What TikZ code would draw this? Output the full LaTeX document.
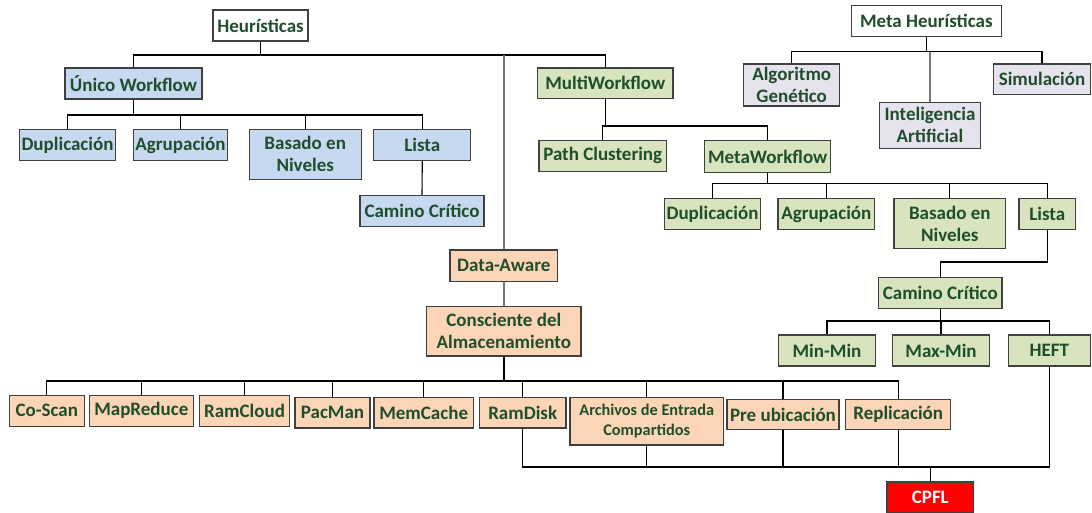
\documentclass[tikz,border=0pt]{standalone}
\usepackage{fontspec}
\setmainfont{Carlito}
\definecolor{txtgreen}{RGB}{31,78,44}
\definecolor{edge}{RGB}{64,64,64}
\definecolor{wiregray}{RGB}{120,120,120}
\definecolor{fillblue}{RGB}{198,217,241}
\definecolor{fillgreen}{RGB}{215,228,189}
\definecolor{fillorange}{RGB}{251,213,181}
\definecolor{filllav}{RGB}{230,226,238}
\definecolor{fillred}{RGB}{255,0,0}
\tikzset{
  box/.style={draw=edge, line width=1.2pt, inner sep=0pt, align=center,
    font=\fontsize{19}{22}\selectfont\bfseries, text=txtgreen},
  rootbox/.style={box, fill=white},
  bluebox/.style={box, fill=fillblue},
  greenbox/.style={box, fill=fillgreen},
  orangebox/.style={box, fill=fillorange},
  lavbox/.style={box, fill=filllav},
  redbox/.style={box, fill=fillred, text=white},
  wire/.style={draw=black, line width=1.1pt},
  graywire/.style={draw=wiregray, line width=1.5pt},
}
\newcommand{\bx}[6]{\node[#1, minimum width=#4pt, minimum height=#5pt] (#2) at (#3) {#6};}
\begin{document}
\begin{tikzpicture}[x=1pt, y=-1pt]
\useasboundingbox (0,0) rectangle (1092,513);

% ---- Heuristicas branch ----
\bx{rootbox}{heur}{260.5,25.5}{95}{31}{Heurísticas}
\bx{bluebox}{unico}{133.5,83.5}{137}{31}{Único Workflow}
\bx{bluebox}{dupA}{67.5,145}{96}{31}{Duplicación}
\bx{bluebox}{agrA}{180.5,145}{94}{31}{Agrupación}
\bx{bluebox}{basA}{305.2,154.2}{112}{50}{Basado en\\Niveles}
\bx{bluebox}{listA}{422.3,145}{97}{31}{Lista}
\bx{bluebox}{camA}{422,211}{124}{31}{Camino Crítico}

% ---- Meta heuristicas ----
\bx{rootbox}{meta}{926.3,21.3}{150}{31}{Meta Heurísticas}
\bx{lavbox}{alg}{791.7,85}{96}{42}{Algoritmo\\Genético}
\bx{lavbox}{ia}{930,125.3}{100.6}{46}{Inteligencia\\Artificial}
\bx{lavbox}{sim}{1042,79.2}{96.6}{30.3}{Simulación}

% ---- MultiWorkflow branch ----
\bx{greenbox}{multi}{605.3,83.3}{135.3}{30.7}{MultiWorkflow}
\bx{greenbox}{path}{602.7,155.8}{127.3}{31}{Path Clustering}
\bx{greenbox}{metaw}{767.7,156.5}{126}{31.6}{MetaWorkflow}
\bx{greenbox}{dupB}{712.5,214}{96.4}{30.6}{Duplicación}
\bx{greenbox}{agrB}{826.3,214}{96.7}{30.6}{Agrupación}
\bx{greenbox}{basB}{949.8,223.5}{111.7}{49.6}{Basado en\\Niveles}
\bx{greenbox}{listB}{1047.2,214}{56.3}{30.6}{Lista}
\bx{greenbox}{camB}{940.3,293}{123.3}{30.6}{Camino Crítico}
\bx{greenbox}{minmin}{827,350.5}{96.6}{31}{Min-Min}
\bx{greenbox}{maxmin}{941,350.5}{96.6}{31}{Max-Min}
\bx{greenbox}{heft}{1049.3,350.5}{82}{31}{HEFT}

% ---- Data-Aware branch ----
\bx{orangebox}{data}{503.8,265.7}{107.7}{31.3}{Data-Aware}
\bx{orangebox}{consc}{503.8,331.3}{154.3}{49.3}{Consciente del\\Almacenamiento}
\bx{orangebox}{coscan}{46.8,410.8}{75}{31}{Co-Scan}
\bx{orangebox}{mapred}{141.3,410.8}{104}{31}{MapReduce}
\bx{orangebox}{ramcloud}{244.5,410.8}{90.4}{31}{RamCloud}
\bx{orangebox}{pacman}{332.5,412.7}{75}{30.7}{PacMan}
\bx{orangebox}{memcache}{423.7,412.7}{99.3}{30.7}{MemCache}
\bx{orangebox}{ramdisk}{522.7,412.7}{86.7}{30.7}{RamDisk}
\node[orangebox, minimum width=153.3pt, minimum height=47.7pt,
  font=\fontsize{16.3}{20}\selectfont\bfseries] (archivos) at (646.7,421.2)
  {Archivos de Entrada\\Compartidos};
\bx{orangebox}{preub}{783,414.5}{112}{30.4}{Pre ubicación}
\bx{orangebox}{replic}{898.2,414.5}{105}{30.4}{Replicación}
\bx{redbox}{cpfl}{930.3,497.2}{86.7}{30.5}{CPFL}

% ---- bus levels ----
\coordinate (hbus) at (0,55);
\coordinate (ubus) at (0,115);
\coordinate (mbus) at (0,51.7);
\coordinate (mwbus) at (0,126);
\coordinate (metabus) at (0,183.3);
\coordinate (lbus) at (0,262);
\coordinate (cbus) at (0,321);
\coordinate (sbus) at (0,381);
\coordinate (fbus) at (0,467);

% Heuristicas tree
\draw[wire] (heur.south) -- (heur.south |- hbus);
\draw[wire] (unico.north) -- (unico.north |- hbus) -- (multi.north |- hbus) -- (multi.north);
\draw[graywire] (data.north) -- (data.north |- hbus);

\draw[wire] (unico.south) -- (unico.south |- ubus);
\draw[wire] (dupA.north) -- (dupA.north |- ubus) -- (listA.north |- ubus) -- (listA.north);
\draw[wire] (agrA.north) -- (agrA.north |- ubus);
\draw[wire] (basA.north) -- (basA.north |- ubus);
\draw[wire] (listA.south) -- (camA.north);

% Meta heuristicas tree
\draw[wire] (meta.south) -- (meta.south |- mbus);
\draw[wire] (alg.north) -- (alg.north |- mbus) -- (sim.north |- mbus) -- (sim.north);
\draw[graywire] (ia.north) -- (ia.north |- mbus);

% MultiWorkflow tree
\draw[wire] (multi.south) -- (multi.south |- mwbus);
\draw[wire] (path.north) -- (path.north |- mwbus) -- (metaw.north |- mwbus) -- (metaw.north);
\draw[wire] (metaw.south) -- (metaw.south |- metabus);
\draw[wire] (dupB.north) -- (dupB.north |- metabus) -- (listB.north |- metabus) -- (listB.north);
\draw[wire] (agrB.north) -- (agrB.north |- metabus);
\draw[wire] (basB.north) -- (basB.north |- metabus);
\draw[wire] (listB.south) -- (listB.south |- lbus) -- (camB.north |- lbus) -- (camB.north);
\draw[wire] (camB.south) -- (camB.south |- cbus);
\draw[wire] (minmin.north) -- (minmin.north |- cbus) -- (heft.north |- cbus) -- (heft.north);
\draw[wire] (maxmin.north) -- (maxmin.north |- cbus);

% Data-Aware tree
\draw[graywire] (data.south) -- (consc.north);
\draw[draw=black, line width=2pt] (consc.south) -- (consc.south |- sbus);
\draw[wire] (coscan.north) -- (coscan.north |- sbus) -- (replic.north |- sbus) -- (replic.north);
\foreach \n in {mapred,ramcloud,pacman,memcache,ramdisk,archivos,preub}
  \draw[wire] (\n.north) -- (\n.north |- sbus);

% Paths merging into CPFL
\draw[wire] (ramdisk.south) -- (ramdisk.south |- fbus) -- (heft.south |- fbus) -- (heft.south);
\foreach \n in {archivos,preub,replic}
  \draw[wire] (\n.south) -- (\n.south |- fbus);
\draw[wire] (cpfl.north) -- (cpfl.north |- fbus);
\end{tikzpicture}
\end{document}
